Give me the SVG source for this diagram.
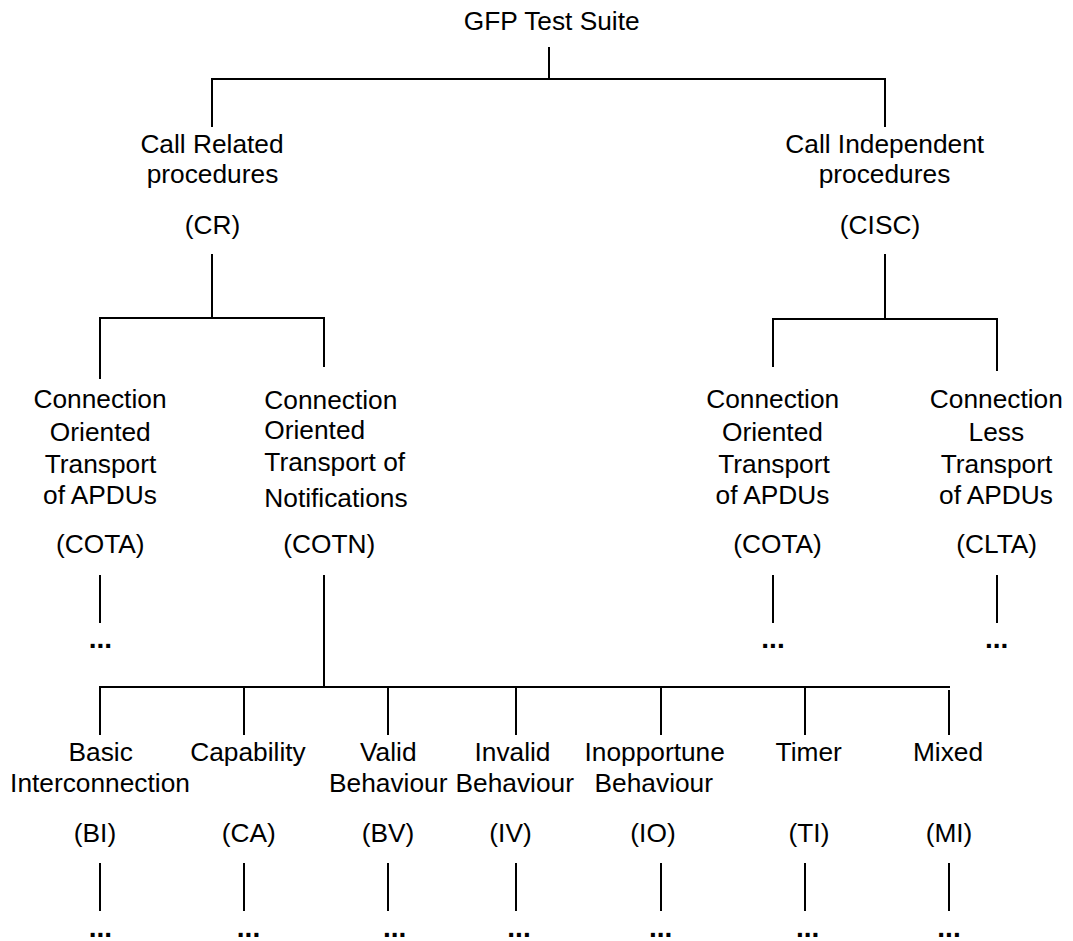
<svg xmlns="http://www.w3.org/2000/svg" width="1073" height="941" viewBox="0 0 1073 941">
<style>
text { font-family: "Liberation Sans", Arial, sans-serif; font-size: 26.3px; fill: #000; text-anchor: middle; }
text.l { text-anchor: start; }
text.dots { font-weight: bold; font-size: 28px; }
.c line { stroke: #000; stroke-width: 2; }
</style>
<rect width="1073" height="941" fill="#fff"/>
<g id="connectors" class="c">
  <line x1="549" y1="47" x2="549" y2="79"/>
  <line x1="212" y1="79" x2="885" y2="79"/>
  <line x1="212" y1="78" x2="212" y2="127"/>
  <line x1="885" y1="78" x2="885" y2="127"/>
  <line x1="212" y1="254" x2="212" y2="318"/>
  <line x1="100" y1="318" x2="324" y2="318"/>
  <line x1="100" y1="317" x2="100" y2="379"/>
  <line x1="324" y1="317" x2="324" y2="367"/>
  <line x1="885" y1="254" x2="885" y2="319"/>
  <line x1="773" y1="319" x2="997" y2="319"/>
  <line x1="773" y1="318" x2="773" y2="367"/>
  <line x1="997" y1="318" x2="997" y2="371"/>
  <line x1="100" y1="575" x2="100" y2="623"/>
  <line x1="773" y1="575" x2="773" y2="623"/>
  <line x1="997" y1="575" x2="997" y2="623"/>
  <line x1="324" y1="575" x2="324" y2="687"/>
  <line x1="100" y1="687" x2="950" y2="687"/>
  <line x1="100" y1="686" x2="100" y2="735"/>
  <line x1="244" y1="686" x2="244" y2="735"/>
  <line x1="388" y1="686" x2="388" y2="735"/>
  <line x1="516" y1="686" x2="516" y2="735"/>
  <line x1="661" y1="686" x2="661" y2="735"/>
  <line x1="805" y1="686" x2="805" y2="735"/>
  <line x1="949" y1="690" x2="949" y2="735"/>
  <line x1="100" y1="863" x2="100" y2="911"/>
  <line x1="244" y1="863" x2="244" y2="911"/>
  <line x1="388" y1="863" x2="388" y2="911"/>
  <line x1="516" y1="863" x2="516" y2="911"/>
  <line x1="661" y1="863" x2="661" y2="911"/>
  <line x1="805" y1="863" x2="805" y2="911"/>
  <line x1="949" y1="863" x2="949" y2="911"/>
</g>
<g id="root"><text x="551.7" y="30">GFP Test Suite</text></g>
<g id="cr">
  <text x="212" y="153.3">Call Related</text>
  <text x="212.5" y="183.3">procedures</text>
  <text x="212.5" y="233.5">(CR)</text>
</g>
<g id="cisc">
  <text x="884.7" y="153.3">Call Independent</text>
  <text x="884.5" y="183.3">procedures</text>
  <text x="880" y="233.5">(CISC)</text>
</g>
<g id="cota-cr">
  <text x="100" y="408">Connection</text>
  <text x="100.3" y="440.7">Oriented</text>
  <text x="100.5" y="472.7">Transport</text>
  <text x="100" y="504.3">of APDUs</text>
  <text x="100.3" y="553.3">(COTA)</text>
  <text class="dots" x="100.3" y="648">...</text>
</g>
<g id="cotn">
  <text class="l" x="264.3" y="409.3">Connection</text>
  <text class="l" x="264.3" y="439.3">Oriented</text>
  <text class="l" x="264.3" y="470.7">Transport of</text>
  <text class="l" x="264.3" y="506.7">Notifications</text>
  <text x="329.2" y="553.3">(COTN)</text>
</g>
<g id="cota-cisc">
  <text x="772.7" y="408">Connection</text>
  <text x="772.5" y="440.7">Oriented</text>
  <text x="774" y="472.7">Transport</text>
  <text x="772.5" y="504.3">of APDUs</text>
  <text x="777.5" y="553.3">(COTA)</text>
  <text class="dots" x="773" y="648">...</text>
</g>
<g id="clta">
  <text x="996.3" y="408">Connection</text>
  <text x="996.3" y="440.7">Less</text>
  <text x="996.5" y="472.7">Transport</text>
  <text x="996" y="504.3">of APDUs</text>
  <text x="996.7" y="553.3">(CLTA)</text>
  <text class="dots" x="996.7" y="648">...</text>
</g>
<g id="bi">
  <text x="100.7" y="761">Basic</text>
  <text x="100" y="792.3">Interconnection</text>
  <text x="95" y="842">(BI)</text>
  <text class="dots" x="100.3" y="937">...</text>
</g>
<g id="ca">
  <text x="248" y="761">Capability</text>
  <text x="248.8" y="842">(CA)</text>
  <text class="dots" x="248.5" y="937">...</text>
</g>
<g id="bv">
  <text x="388.3" y="761">Valid</text>
  <text x="388.2" y="792.3">Behaviour</text>
  <text x="388" y="842">(BV)</text>
  <text class="dots" x="394.7" y="937">...</text>
</g>
<g id="iv">
  <text x="512.5" y="761">Invalid</text>
  <text x="514.7" y="792.3">Behaviour</text>
  <text x="510.5" y="842">(IV)</text>
  <text class="dots" x="519" y="937">...</text>
</g>
<g id="io">
  <text x="654.7" y="761">Inopportune</text>
  <text x="653.8" y="792.3">Behaviour</text>
  <text x="653" y="842">(IO)</text>
  <text class="dots" x="660.7" y="937">...</text>
</g>
<g id="ti">
  <text x="808.7" y="761">Timer</text>
  <text x="809" y="842">(TI)</text>
  <text class="dots" x="807.7" y="937">...</text>
</g>
<g id="mi">
  <text x="948" y="761">Mixed</text>
  <text x="949" y="842">(MI)</text>
  <text class="dots" x="949" y="937">...</text>
</g>
</svg>
